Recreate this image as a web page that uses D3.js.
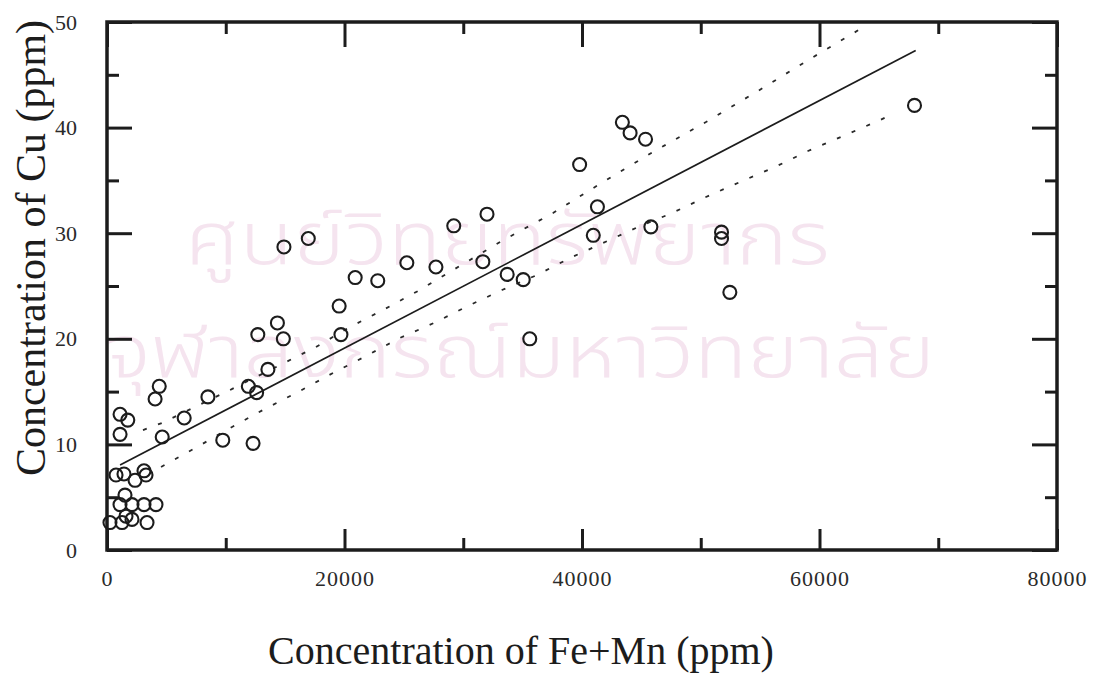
<!DOCTYPE html>
<html><head><meta charset="utf-8">
<script src="https://cdn.jsdelivr.net/npm/d3@7"></script>
<style>body{margin:0;background:#fff}</style>
</head><body>
<svg id="chart" width="1095" height="677"></svg>
<script>
// ---- data ----
const feMn = [68000,43400,44050,45350,39800,41300,40950,45800,51750,51750,52450,
  29200,32000,25250,27700,31650,33700,35050,35600,14900,16950,20900,22800,19550,19700,
  14350,12700,14850,13550,11900,12600,12300,4400,4050,1100,1750,1100,4650,6500,8500,9750,
  760,1430,2360,3115,3285,1515,1095,2105,3115,4125,1600,2105,250,1265,3370];
const cu = [42.1,40.5,39.5,38.9,36.5,32.5,29.8,30.6,30.1,29.5,24.4,
  30.7,31.8,27.2,26.8,27.3,26.1,25.6,20.0,28.7,29.5,25.8,25.5,23.1,20.4,
  21.5,20.4,20.0,17.1,15.5,14.9,10.1,15.5,14.3,12.85,12.3,10.95,10.7,12.5,14.5,10.4,
  7.1,7.2,6.6,7.5,7.1,5.2,4.3,4.3,4.3,4.3,3.2,2.9,2.6,2.6,2.6];
const regX = [1100, 68100];
const regY = [8.05, 47.3];
const upperX = [3030,4630,7580,10360,14570,17600,20300,23240,26190,33100,37560,41770,45980,50440,54820,59200,63580];
const upperY = [11.36,12.03,13.64,15.15,17.52,19.22,21.02,22.73,24.53,29.17,31.91,34.85,37.69,40.53,43.47,46.5,49.43];
const lowerX = [4550,6060,7580,10360,13140,16080,19030,21810,24670,27540,30400,33260,36210,38990,41770,44720,47580,50440,53310,56250,59030,61980,64930,66360];
const lowerY = [7.86,8.81,9.75,11.55,13.26,14.96,16.76,18.37,20.08,21.5,23.11,24.62,26.04,27.65,29.07,30.59,31.91,33.43,34.85,36.27,37.78,39.2,40.63,41.38];
const xMajorTicks = [0,20000,40000,60000,80000];
const xMinorTicks = [10000,30000,50000,70000];
const yMajorTicks = [0,10,20,30,40,50];
const yMinorTicks = [5,15,25,35,45];
const xTitle = "Concentration of Fe+Mn (ppm)";
const yTitle = "Concentration of Cu (ppm)";
const watermark = ["ศูนย์วิทยทรัพยากร","จุฬาลงกรณ์มหาวิทยาลัย"];

// ---- drawing ----
const svg = d3.select("#chart");
const L=107,R=1057,T=22,B=550;
const x = d3.scaleLinear().domain([0,80000]).range([L,R]);
const y = d3.scaleLinear().domain([0,50]).range([B,T]);
const ink = "#1c1c1c";
const serif = "'Liberation Serif','Times New Roman',serif";
const thai = "'Noto Sans Thai','Noto Serif Thai','Noto Sans',sans-serif";

// watermark (scan background)
svg.append("text").attr("x",185).attr("y",264)
  .attr("font-family",thai).attr("font-size",74).attr("font-weight",300)
  .attr("textLength",645).attr("lengthAdjust","spacingAndGlyphs")
  .attr("fill","#f5e4ef").text(watermark[0]);
svg.append("text").attr("x",105).attr("y",377)
  .attr("font-family",thai).attr("font-size",74).attr("font-weight",300)
  .attr("textLength",830).attr("lengthAdjust","spacingAndGlyphs")
  .attr("fill","#f5e4ef").text(watermark[1]);

// frame
svg.append("rect").attr("x",L).attr("y",T).attr("width",R-L).attr("height",B-T)
  .attr("fill","none").attr("stroke",ink).attr("stroke-width",3.5);

function styleAxis(g){
  g.select(".domain").remove();
  g.selectAll(".tick line").attr("stroke",ink).attr("stroke-width",3);
  g.selectAll(".tick text").attr("fill","#2a2a2a").attr("font-family",serif).attr("font-size",22);
}
svg.append("g").attr("transform",`translate(0,${B})`)
  .call(d3.axisBottom(x).tickValues(xMajorTicks).tickSize(-21).tickPadding(20).tickFormat(d3.format("d")))
  .call(styleAxis).selectAll(".tick text").attr("letter-spacing","1px");
svg.append("g").attr("transform",`translate(0,${B})`)
  .call(d3.axisBottom(x).tickValues(xMinorTicks).tickSize(-12).tickFormat(""))
  .call(styleAxis);
svg.append("g").attr("transform",`translate(0,${T})`)
  .call(d3.axisTop(x).tickValues(xMajorTicks).tickSize(-25).tickFormat(""))
  .call(styleAxis);
svg.append("g").attr("transform",`translate(0,${T})`)
  .call(d3.axisTop(x).tickValues(xMinorTicks).tickSize(-12).tickFormat(""))
  .call(styleAxis);
svg.append("g").attr("transform",`translate(${L},0)`)
  .call(d3.axisLeft(y).tickValues(yMajorTicks).tickSize(-25).tickPadding(30))
  .call(styleAxis);
svg.append("g").attr("transform",`translate(${L},0)`)
  .call(d3.axisLeft(y).tickValues(yMinorTicks).tickSize(-12).tickFormat(""))
  .call(styleAxis);
svg.append("g").attr("transform",`translate(${R},0)`)
  .call(d3.axisRight(y).tickValues(yMajorTicks).tickSize(-25).tickFormat(""))
  .call(styleAxis);
svg.append("g").attr("transform",`translate(${R},0)`)
  .call(d3.axisRight(y).tickValues(yMinorTicks).tickSize(-12).tickFormat(""))
  .call(styleAxis);

// lines
const line = d3.line().x(d=>x(d[0])).y(d=>y(d[1]));
svg.append("path").datum(d3.zip(upperX,upperY)).attr("d",line)
  .attr("fill","none").attr("stroke","#2a2a2a").attr("stroke-width",1.8).attr("stroke-dasharray","4,12");
svg.append("path").datum(d3.zip(lowerX,lowerY)).attr("d",line)
  .attr("fill","none").attr("stroke","#2a2a2a").attr("stroke-width",1.8).attr("stroke-dasharray","4,12");
svg.append("path").datum(d3.zip(regX,regY)).attr("d",line)
  .attr("fill","none").attr("stroke",ink).attr("stroke-width",1.7);

// points
svg.append("g").selectAll("circle").data(d3.zip(feMn,cu)).join("circle")
  .attr("cx",d=>x(d[0])).attr("cy",d=>y(d[1])).attr("r",6.5)
  .attr("fill","none").attr("stroke",ink).attr("stroke-width",2.1);

// titles
svg.append("text").attr("x",521).attr("y",664).attr("text-anchor","middle")
  .attr("font-family",serif).attr("font-size",40).attr("fill",ink).text(xTitle);
svg.append("text").attr("transform","translate(45,248) rotate(-90)").attr("text-anchor","middle")
  .attr("font-family",serif).attr("font-size",42).attr("fill",ink).text(yTitle);
</script>
</body></html>
